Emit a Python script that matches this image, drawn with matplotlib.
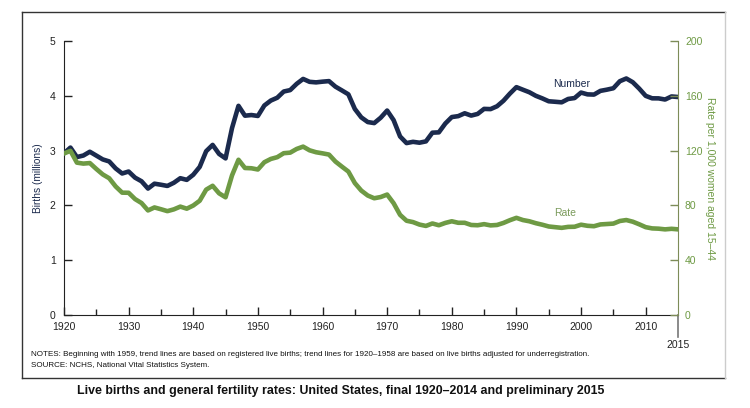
import matplotlib.pyplot as plt
from matplotlib.lines import Line2D
import numpy as np

plt.rcParams['font.family'] = ['Liberation Sans', 'DejaVu Sans']

# Data
years = np.arange(1920, 2016)
births = [2.950, 3.055, 2.882, 2.910, 2.979, 2.909, 2.839, 2.802, 2.674, 2.582,
          2.618, 2.506, 2.440, 2.307, 2.396, 2.377, 2.355, 2.413, 2.496, 2.466,
          2.559, 2.703, 2.989, 3.104, 2.939, 2.858, 3.411, 3.817, 3.637, 3.649,
          3.632, 3.823, 3.913, 3.965, 4.078, 4.104, 4.218, 4.308, 4.255, 4.245,
          4.258, 4.268, 4.167, 4.098, 4.027, 3.760, 3.606, 3.521, 3.502, 3.600,
          3.731, 3.556, 3.258, 3.137, 3.160, 3.144, 3.168, 3.327, 3.333, 3.494,
          3.612, 3.629, 3.681, 3.639, 3.669, 3.761, 3.757, 3.809, 3.910, 4.041,
          4.158, 4.111, 4.065, 4.000, 3.953, 3.900, 3.891, 3.881, 3.942, 3.959,
          4.059, 4.026, 4.022, 4.090, 4.112, 4.138, 4.266, 4.316, 4.248, 4.131,
          3.999, 3.954, 3.953, 3.932, 3.988, 3.978]
rate = [117.9, 119.8, 111.2, 110.5, 110.9, 106.6, 102.6, 99.8, 93.8, 89.3,
        89.2, 84.6, 81.7, 76.3, 78.5, 77.2, 75.8, 77.1, 79.1, 77.6,
        79.9, 83.4, 91.5, 94.3, 88.8, 85.9, 101.9, 113.3, 107.3, 107.1,
        106.2, 111.5, 113.9, 115.2, 118.1, 118.5, 121.2, 122.9, 120.2, 118.8,
        118.0, 117.1, 112.0, 108.3, 104.7, 96.3, 90.8, 87.2, 85.2, 86.1,
        87.9, 81.6, 73.1, 68.8, 67.8, 66.0, 65.0, 66.8, 65.5, 67.2,
        68.4, 67.3, 67.3, 65.7, 65.5, 66.3, 65.4, 65.7, 67.2, 69.2,
        70.9, 69.3, 68.4, 67.0, 65.9, 64.6, 64.1, 63.6, 64.3, 64.4,
        65.9, 65.1, 64.8, 66.1, 66.4, 66.7, 68.6, 69.3, 68.1, 66.2,
        64.1, 63.2, 63.0, 62.5, 62.9, 62.5]

navy = '#1b2a4d'
green = '#6e9a44'
olive = '#7d8c58'

fig = plt.figure(figsize=(7.5, 4.08), dpi=100)
ax = fig.add_axes([0.0853, 0.228, 0.8187, 0.6715])
ax2 = ax.twinx()

ax.plot(years, births, color=navy, lw=3.3, solid_joinstyle='round', zorder=3)
ax2.plot(years, rate, color=green, lw=3.3, solid_joinstyle='round', zorder=2)

ax.set_xlim(1920, 2015)
ax.set_ylim(0, 5)
ax2.set_ylim(0, 200)

ax.set_xticks(np.arange(1920, 2011, 10))
ax.set_xticks(np.arange(1925, 2015, 10), minor=True)
ax.set_yticks(np.arange(0, 6, 1))
ax2.set_yticks(np.arange(0, 201, 40))

for s in ['top', 'right']:
    ax.spines[s].set_visible(False)
for s in ['top', 'left', 'bottom']:
    ax2.spines[s].set_visible(False)
ax2.spines['right'].set_color(olive)
ax.spines['left'].set_color('#222222')
ax.spines['bottom'].set_color('#222222')

ax.tick_params(axis='x', which='major', direction='in', length=6, width=1, pad=5,
               labelsize=7.5, color='#222222', labelcolor='#222222')
ax.tick_params(axis='x', which='minor', direction='in', length=4, width=1, color='#222222')
ax.tick_params(axis='y', direction='in', length=6, width=1, pad=6,
               labelsize=7.5, color='#222222', labelcolor='#222222')
ax2.tick_params(axis='y', direction='in', length=6, width=1, pad=5,
                labelsize=7.5, color=olive, labelcolor=green)

ax.set_ylabel('Births (millions)', fontsize=7.3, color=navy, labelpad=5)
ax2.set_ylabel('Rate per 1,000 women aged 15\u201344', fontsize=7.5, color=green,
               rotation=270, labelpad=9)

# 2015 marker below the axis
xt = ax.get_xaxis_transform()
ax.plot([2015, 2015], [0, -0.08], transform=xt, color='#777777', lw=1.2, clip_on=False)
ax.text(2015, -0.09, '2015', transform=xt, ha='center', va='top', fontsize=7.5, color='#222222')

ax.text(1998.5, 4.12, 'Number', fontsize=7.5, color=navy, ha='center', va='bottom')
ax2.text(1997.5, 70.5, 'Rate', fontsize=7.5, color='#7a9a5a', ha='center', va='bottom')

# frame around chart
x0, x1, y0, y1 = 0.0293, 0.9667, 0.0735, 0.9706
fig.add_artist(Line2D([x0, x0], [y0, y1], color='#333333', lw=1))
fig.add_artist(Line2D([x0, x1], [y1, y1], color='#333333', lw=1))
fig.add_artist(Line2D([x0, x1], [y0, y0], color='#333333', lw=1))
fig.add_artist(Line2D([x1, x1], [y0, y1], color='#cccccc', lw=1))

fig.text(0.041, 0.132, 'NOTES: Beginning with 1959, trend lines are based on registered live births; '
         'trend lines for 1920\u20131958 are based on live births adjusted for underregistration.',
         fontsize=5.8, va='center', color='#111111')
fig.text(0.041, 0.103, 'SOURCE: NCHS, National Vital Statistics System.',
         fontsize=5.8, va='center', color='#111111')

fig.text(0.454, 0.041, 'Live births and general fertility rates: United States, final 1920\u20132014 and preliminary 2015',
         fontsize=8.9, weight='bold', ha='center', va='center', color='#111111')

fig.savefig('out.png', dpi=100)
